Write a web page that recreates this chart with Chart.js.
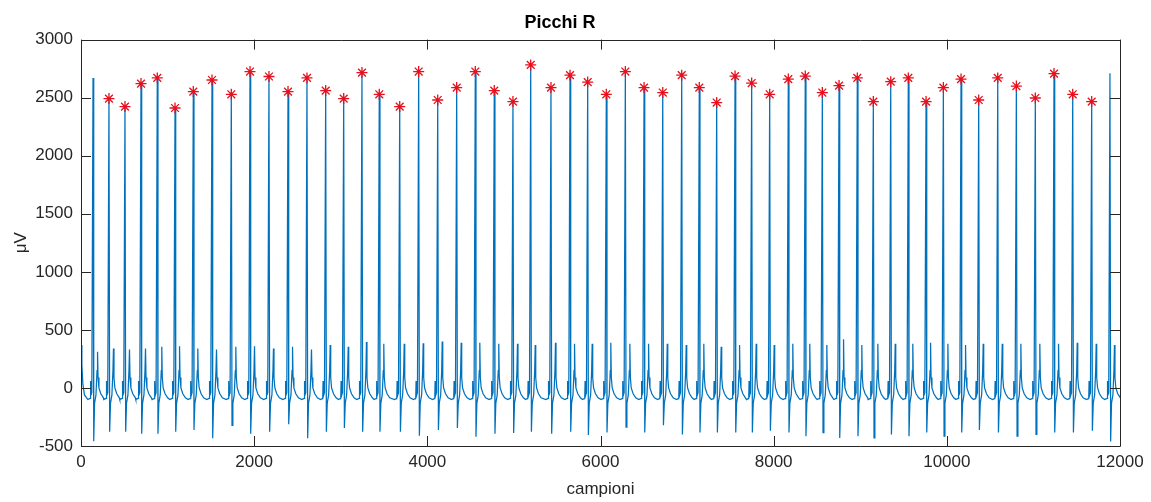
<!DOCTYPE html>
<html>
<head>
<meta charset="utf-8">
<script src="https://cdn.jsdelivr.net/npm/chart.js@4.4.1/dist/chart.umd.min.js"></script>
<style>
  html, body { margin: 0; padding: 0; background: #ffffff; }
  #wrap { width: 1151px; height: 502px; }
</style>
</head>
<body>
<div id="wrap"><canvas id="chart" width="1151" height="502"></canvas></div>
<script>
// R peaks (sample index and amplitude in µV)
const rPos = [139, 323, 508, 693, 881, 1086, 1297, 1513, 1736, 1952, 2171, 2391, 2610, 2826, 3034,
    3245, 3445, 3681, 3900, 4120, 4339, 4554, 4773, 4989, 5194, 5428, 5648, 5852, 6067, 6287,
    6503, 6719, 6938, 7141, 7342, 7554, 7746, 7954, 8169, 8365, 8562, 8755, 8966, 9151, 9352,
    9555, 9760, 9960, 10164, 10368, 10588, 10803, 11022, 11238, 11454, 11673, 11884];
const rVal = [2670, 2492, 2423, 2621, 2670, 2411, 2552, 2652, 2529, 2725, 2682, 2552, 2670, 2561, 2492,
    2716, 2529, 2423, 2725, 2480, 2587, 2725, 2561, 2466, 2782, 2587, 2694, 2634, 2529, 2725,
    2587, 2544, 2694, 2587, 2458, 2686, 2626, 2529, 2660, 2686, 2544, 2604, 2670, 2466, 2638,
    2670, 2466, 2587, 2660, 2480, 2670, 2600, 2497, 2707, 2529, 2466, 2710];
// S dip after each R
const sVal = [-460, -378, -378, -395, -395, -378, -362, -434, -322, -395, -378, -312, -434, -378, -345,
    -378, -378, -378, -411, -362, -345, -421, -395, -388, -378, -395, -378, -405, -384, -337,
    -384, -321, -400, -384, -384, -384, -384, -368, -384, -415, -384, -431, -415, -431, -400,
    -415, -384, -415, -384, -362, -384, -415, -400, -384, -384, -368, -462];
// smaller wave after each R
const tVal = [311, 340, 330, 340, 355, 360, 340, 330, 355, 360, 340, 355, 330, 370,
    355, 395, 380, 380, 385, 400, 390, 390, 380, 380, 370, 390, 380, 380, 390, 380,
    380, 380, 370, 380, 355, 370, 380, 370, 380, 380, 370, 420, 370, 380, 380,
    380, 390, 380, 370, 380, 380, 380, 380, 380, 390, 380, 370];

// beat shape around each R: sample offsets and levels ('R', 'S', 'T' come from the arrays above)
const shapeDt = [-60, -34, -30, -26, -14, 0, 8, 18, 34, 46, 52, 58, 68, 90, 120];
const shapeY = [-100, -90, 60, -70, -40, 'R', 'S', -130, -60, 150, 'T', 90, 0, -50, -85];

// start of the trace (tail of a wave before the first beat)
const leadX = [0, 10, 22, 40];
const leadY = [370, 200, 30, -60];

// the first and the last beat are not marked
const firstMarked = 1;
const lastMarked = 55;

const xTicks = [0, 2000, 4000, 6000, 8000, 10000, 12000];
const yTicks = [-500, 0, 500, 1000, 1500, 2000, 2500, 3000];

const ecg = leadX.map((x, i) => ({ x, y: leadY[i] }));
rPos.forEach((r, b) => {
    shapeDt.forEach((dt, k) => {
        let y = shapeY[k];
        if (y === 'R') y = rVal[b];
        else if (y === 'S') y = sVal[b];
        else if (y === 'T') y = tVal[b];
        ecg.push({ x: r + dt, y });
    });
});

const peaks = [];
for (let b = firstMarked; b <= lastMarked; b++) {
    peaks.push({ x: rPos[b], y: rVal[b] });
}

const AXIS = "#262626";
const FONT = "'Liberation Sans', Arial, Helvetica, sans-serif";

// MATLAB style box with inward ticks on all four sides
const boxPlugin = {
    id: "matlabBox",
    afterDraw(chart) {
        const { ctx, chartArea: a, scales } = chart;
        const len = 10;
        ctx.save();
        ctx.strokeStyle = AXIS;
        ctx.lineWidth = 1;
        ctx.beginPath();
        ctx.rect(Math.round(a.left) + 0.5, Math.round(a.top) + 0.5,
            Math.round(a.right - a.left), Math.round(a.bottom - a.top));
        xTicks.forEach(v => {
            const px = Math.round(scales.x.getPixelForValue(v)) + 0.5;
            ctx.moveTo(px, a.bottom);
            ctx.lineTo(px, a.bottom - len);
            ctx.moveTo(px, a.top);
            ctx.lineTo(px, a.top + len);
        });
        yTicks.forEach(v => {
            const py = Math.round(scales.y.getPixelForValue(v)) + 0.5;
            ctx.moveTo(a.left, py);
            ctx.lineTo(a.left + len, py);
            ctx.moveTo(a.right, py);
            ctx.lineTo(a.right - len, py);
        });
        ctx.stroke();
        ctx.restore();
    }
};

new Chart(document.getElementById("chart"), {
    type: "scatter",
    data: {
        datasets: [
            {
                data: peaks,
                showLine: false,
                pointStyle: "star",
                pointRadius: 5.5,
                pointBorderWidth: 1.3,
                borderColor: "#e8101c",
                backgroundColor: "#e8101c",
                order: 1,
            },
            {
                data: ecg,
                showLine: true,
                borderColor: "#0072bd",
                borderWidth: 1.25,
                pointRadius: 0,
                tension: 0,
                order: 2,
            },
        ],
    },
    options: {
        responsive: false,
        animation: false,
        devicePixelRatio: 1,
        layout: { padding: { left: 0, right: 31, top: 0, bottom: 0 } },
        plugins: {
            legend: { display: false },
            tooltip: { enabled: false },
            title: {
                display: true,
                text: "Picchi R",
                color: "#000000",
                font: { family: FONT, size: 18, weight: "bold" },
                padding: { top: 12, bottom: 6 },
            },
        },
        scales: {
            x: {
                type: "linear",
                min: 0,
                max: 12000,
                afterBuildTicks: s => { s.ticks = xTicks.map(v => ({ value: v })); },
                afterFit: s => { s.height = 56; },
                grid: { display: false, drawTicks: false },
                border: { display: false },
                ticks: {
                    color: AXIS,
                    padding: 6,
                    maxRotation: 0,
                    font: { family: FONT, size: 17 },
                    callback: v => String(v),
                },
                title: {
                    display: true,
                    text: "campioni",
                    color: AXIS,
                    font: { family: FONT, size: 17 },
                    padding: { top: 0, bottom: 2 },
                },
            },
            y: {
                type: "linear",
                min: -500,
                max: 3000,
                afterBuildTicks: s => { s.ticks = yTicks.map(v => ({ value: v })); },
                afterFit: s => { s.width = 81; },
                grid: { display: false, drawTicks: false },
                border: { display: false },
                ticks: {
                    color: AXIS,
                    padding: 8,
                    font: { family: FONT, size: 17 },
                    callback: v => String(v),
                },
                title: {
                    display: true,
                    text: "μV",
                    color: AXIS,
                    font: { family: FONT, size: 17 },
                    padding: { top: 11, bottom: 0 },
                },
            },
        },
    },
    plugins: [boxPlugin],
});
</script>
</body>
</html>
